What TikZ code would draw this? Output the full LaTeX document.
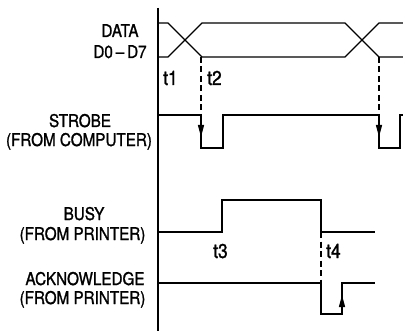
\documentclass[tikz,border=0pt]{standalone}
\usepackage{fontspec}
\setmainfont{TeX Gyre Heros}[FakeStretch=0.87,FakeBold=1.3]
\usetikzlibrary{arrows.meta}
\begin{document}
\begin{tikzpicture}[x=1pt,y=-1pt,
  wave/.style={line width=1.3pt, line join=miter},
  thickwave/.style={line width=2.8pt},
  dashln/.style={line width=1.5pt, dash pattern=on 6pt off 3.5pt},
  tip/.style={line width=1.3pt, -{Triangle[length=12pt,width=6pt]}},
  lbl/.style={font=\fontsize{17.5}{20}\selectfont, inner sep=0pt, anchor=base},
  tlbl/.style={font=\fontsize{20}{22}\selectfont, inner sep=0pt, anchor=base west}]
\useasboundingbox (0,0) rectangle (403,331);
% axis
\coordinate (axtop) at (158,8);
\coordinate (axbot) at (158,331);
\draw[wave] (axtop) -- (axbot);
% data
\draw[wave] (158,23) -- (168,23) -- (202,57) -- (345,57) -- (379,23) -- (403,23);
\draw[wave] (158,57) -- (168,57) -- (202,23) -- (345,23) -- (379,57) -- (403,57);
% strobe
\draw[wave] (158,115) -- (201,115) -- (201,148) -- (223,148) -- (223,115) -- (379,115) -- (379,148) -- (400,148) -- (400,115) -- (403,115);
% busy
\draw[thickwave] (158,232) -- (222,232) -- (222,200) -- (321,200) -- (321,232) -- (375,232);
% acknowledge
\draw[wave] (158,283) -- (321,283) -- (321,314) -- (342,314) -- (342,283) -- (375,283);
% dashed markers and arrows
\coordinate (d1) at (201,57);
\coordinate (s1) at (201,115);
\coordinate (a1) at (201,137);
\coordinate (d2) at (379,57);
\coordinate (s2) at (379,115);
\coordinate (a2) at (379,137);
\coordinate (d3) at (321,232);
\coordinate (s3) at (321,283);
\coordinate (b4) at (342,310);
\coordinate (a4) at (342,295);
\draw[dashln] (d1) -- (s1);
\draw[dashln] (d2) -- (s2);
\draw[dashln] (d3) -- (s3);
\draw[tip] (s1) -- (a1);
\draw[tip] (s2) -- (a2);
\draw[tip] (b4) -- (a4);
% labels
\node[lbl] (data) at (120,37) {DATA};
\node[lbl] (dd) at (120,58) {D0\,–\,D7};
\node[tlbl] (t1) at (163,85) {t1};
\node[tlbl] (t2) at (207,85) {t2};
\node[lbl] (strobe) at (80,127) {STROBE};
\node[lbl] (fc) at (79,146) {(FROM COMPUTER)};
\node[lbl] (busy) at (84,220) {BUSY};
\node[lbl] (fp1) at (82.5,240) {(FROM PRINTER)};
\node[tlbl] (t3) at (213,258) {t3};
\node[tlbl] (t4) at (326,258) {t4};
\node[lbl] (ack) at (85,285) {ACKNOWLEDGE};
\node[lbl] (fp2) at (82.5,304) {(FROM PRINTER)};
\end{tikzpicture}
\end{document}
